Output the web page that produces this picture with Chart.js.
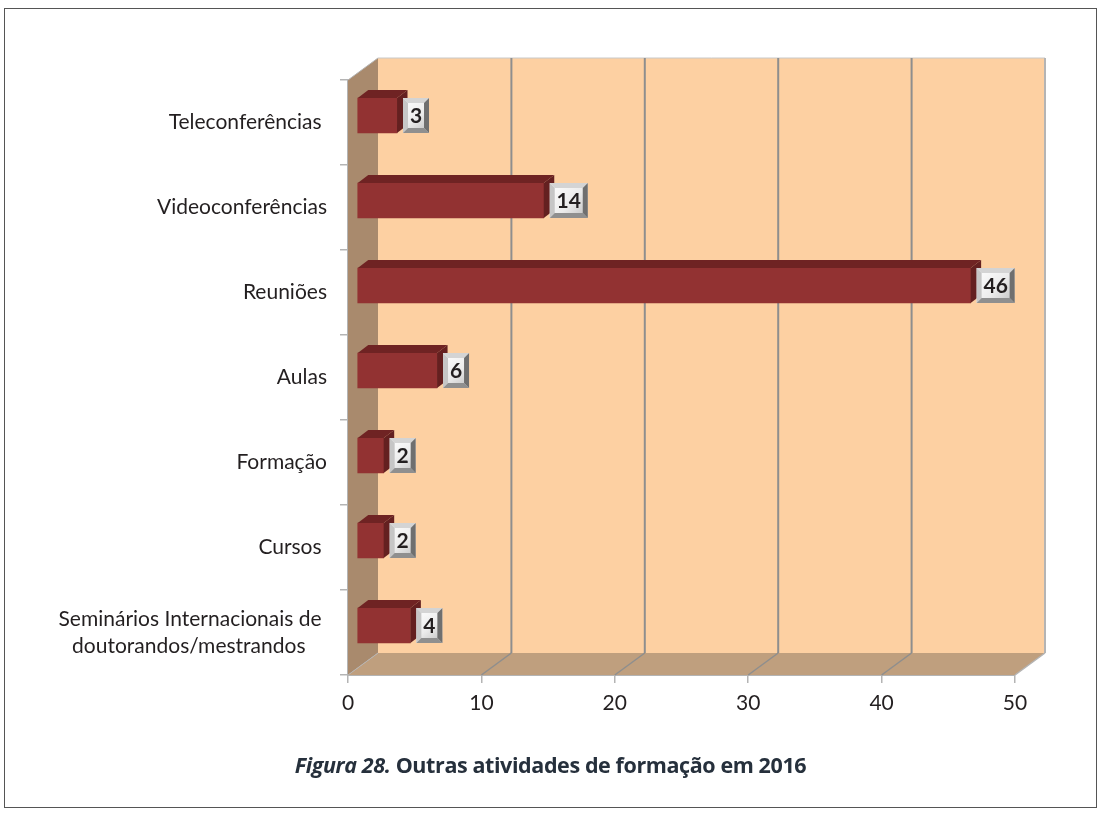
<!DOCTYPE html>
<html>
<head>
<meta charset="utf-8">
<script src="https://cdn.jsdelivr.net/npm/chart.js@4"></script>
<style>
  html, body { margin: 0; background: #fff; }
  #frame { position: absolute; left: 4px; top: 8px; width: 1091px; height: 798px; border: 1px solid #555; }
  #c { position: absolute; left: 0; top: 0; }
  #caption { position: absolute; left: 35px; width: 1031px; top: 750px; text-align: center;
    font: bold 21.5px "Open Sans", sans-serif; color: #26303c; letter-spacing: -0.4px; }
</style>
</head>
<body>
<div id="frame"></div>
<canvas id="c" width="1100" height="815"></canvas>
<div id="caption"><i>Figura 28.</i> Outras atividades de formação em 2016</div>
<script>
// trailing spaces keep the labels off the axis the way the original does
const categories = [
  "Teleconferências ",
  "Videoconferências",
  "Reuniões",
  "Aulas",
  "Formação",
  "Cursos ",
  ["Seminários Internacionais de ", "doutorandos/mestrandos    "]
];
const values = [3, 14, 46, 6, 2, 2, 4];
const xTicks = [0, 10, 20, 30, 40, 50];

// 3d look
const WALL = { dx: 30, dy: -22 };
const BAR_SHIFT = { dx: 9, dy: -7 };
const BAR_DEPTH = { dx: 10.5, dy: -8 };
const colors = {
  back: "#fdd0a2", side: "#a98a6d", floor: "#bf9f7e", grid: "#8e8e8e", edge: "#b4b4b4",
  barFront: "#923232", barTop: "#6f2323", barSide: "#642020", text: "#231f20"
};

function poly(ctx, pts, fill) {
  ctx.beginPath();
  pts.forEach((p, i) => i ? ctx.lineTo(p[0], p[1]) : ctx.moveTo(p[0], p[1]));
  ctx.closePath();
  ctx.fillStyle = fill;
  ctx.fill();
}

function line(ctx, x1, y1, x2, y2, col, w) {
  ctx.beginPath();
  ctx.moveTo(x1, y1);
  ctx.lineTo(x2, y2);
  ctx.strokeStyle = col;
  ctx.lineWidth = w;
  ctx.stroke();
}

// paredes e grade 3d, atrás das barras
const walls = {
  id: "walls",
  beforeDatasetsDraw(chart) {
    const { ctx, chartArea: a, scales } = chart;
    const d = WALL;
    ctx.save();
    poly(ctx, [[a.left + d.dx, a.top + d.dy], [a.right + d.dx, a.top + d.dy], [a.right + d.dx, a.bottom + d.dy], [a.left + d.dx, a.bottom + d.dy]], colors.back);
    poly(ctx, [[a.left, a.top], [a.left + d.dx, a.top + d.dy], [a.left + d.dx, a.bottom + d.dy], [a.left, a.bottom]], colors.side);
    poly(ctx, [[a.left, a.bottom], [a.left + d.dx, a.bottom + d.dy], [a.right + d.dx, a.bottom + d.dy], [a.right, a.bottom]], colors.floor);
    line(ctx, a.left + d.dx, a.top + d.dy, a.right + d.dx, a.top + d.dy, "#c8c8c8", 1);
    xTicks.forEach((v) => {
      const x = scales.x.getPixelForValue(v);
      if (v > 0) {
        const col = v === 50 ? colors.edge : colors.grid;
        line(ctx, x + d.dx, a.top + d.dy, x + d.dx, a.bottom + d.dy, col, 2);
        line(ctx, x, a.bottom, x + d.dx, a.bottom + d.dy, col, 1.5);
      }
    });
    line(ctx, a.left, a.top, a.left + d.dx, a.top + d.dy, colors.edge, 1);
    line(ctx, a.left, a.bottom, a.left + d.dx, a.bottom + d.dy, colors.edge, 1);
    ctx.restore();
  },
  // as barras ficam um pouco à frente da parede
  beforeDatasetDraw(chart) {
    chart.ctx.save();
    chart.ctx.translate(BAR_SHIFT.dx, BAR_SHIFT.dy);
  },
  afterDatasetDraw(chart) {
    const ctx = chart.ctx;
    const d = BAR_DEPTH;
    chart.getDatasetMeta(0).data.forEach((bar) => {
      const h = bar.height / 2;
      poly(ctx, [[bar.base, bar.y - h], [bar.base + d.dx, bar.y - h + d.dy], [bar.x + d.dx, bar.y - h + d.dy], [bar.x, bar.y - h]], colors.barTop);
      poly(ctx, [[bar.x, bar.y - h], [bar.x + d.dx, bar.y - h + d.dy], [bar.x + d.dx, bar.y + h + d.dy], [bar.x, bar.y + h]], colors.barSide);
    });
    ctx.restore();
    drawBadges(chart);
  }
};

// etiquetas de valor com chanfro
function drawBadges(chart) {
  const ctx = chart.ctx;
  chart.getDatasetMeta(0).data.forEach((bar, i) => {
    const txt = String(values[i]);
    const w = txt.length > 1 ? 38 : 26;
    const h = 35, b = 5;
    const x = bar.x + BAR_SHIFT.dx + 6;
    const y = bar.y + BAR_SHIFT.dy - h / 2;
    const g = ctx.createLinearGradient(x, y, x + w, y + h);
    g.addColorStop(0, "#ffffff");
    g.addColorStop(0.55, "#ececec");
    g.addColorStop(1, "#bdbdbd");
    ctx.fillStyle = g;
    ctx.fillRect(x, y, w, h);
    poly(ctx, [[x, y], [x + w, y], [x + w - b, y + b], [x + b, y + b]], "#d4d4d4");
    poly(ctx, [[x, y], [x + b, y + b], [x + b, y + h - b], [x, y + h]], "#c6c6c6");
    poly(ctx, [[x + w, y], [x + w, y + h], [x + w - b, y + h - b], [x + w - b, y + b]], "#6f6f6f");
    poly(ctx, [[x, y + h], [x + b, y + h - b], [x + w - b, y + h - b], [x + w, y + h]], "#8f8f8f");
    ctx.fillStyle = colors.text;
    ctx.font = 'bold 21px Lato, sans-serif';
    ctx.textAlign = "center";
    ctx.textBaseline = "middle";
    ctx.fillText(txt, x + w / 2, y + h / 2 + 1);
  });
}

new Chart(document.getElementById("c").getContext("2d"), {
  type: "bar",
  data: {
    labels: categories,
    datasets: [{ data: values, backgroundColor: colors.barFront, barThickness: 35, borderWidth: 0 }]
  },
  options: {
    indexAxis: "y",
    responsive: false,
    animation: false,
    layout: { padding: { left: 0, top: 80, right: 85, bottom: 80 } },
    plugins: { legend: { display: false }, tooltip: { enabled: false } },
    scales: {
      x: {
        min: 0, max: 50,
        afterFit(s) { s.height = 60; },
        border: { color: colors.edge, width: 2 },
        grid: { drawOnChartArea: false, color: colors.edge, lineWidth: 1.5, tickLength: 8 },
        ticks: { stepSize: 10, color: colors.text, padding: 8, maxRotation: 0, font: { family: "Lato", size: 21 } }
      },
      y: {
        afterFit(s) { s.width = 348; },
        border: { color: colors.edge, width: 2 },
        grid: { drawOnChartArea: false, color: colors.edge, lineWidth: 1.5, tickLength: 8 },
        ticks: { color: colors.text, padding: 13, autoSkip: false, font: { family: "Lato", size: 21, lineHeight: 1.3 } }
      }
    }
  },
  plugins: [walls]
});
</script>
</body>
</html>
